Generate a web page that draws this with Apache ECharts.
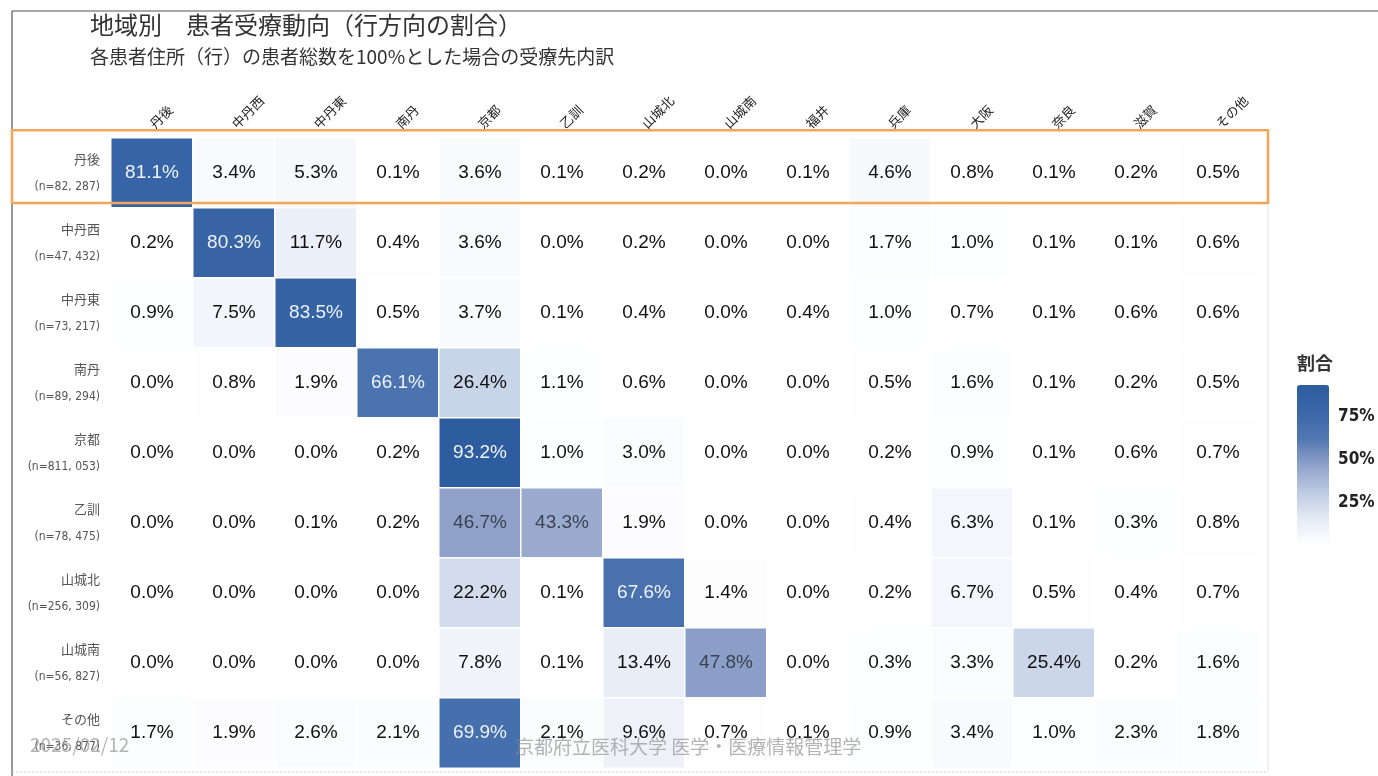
<!DOCTYPE html>
<html><head><meta charset="utf-8">
<script src="https://cdn.jsdelivr.net/npm/echarts@6/dist/echarts.min.js"></script>
<style>html,body{margin:0;padding:0;background:#fff}#c{width:1378px;height:776px}</style>
</head><body><div id="c"></div>
<script>
const destinations = ['丹後','中丹西','中丹東','南丹','京都','乙訓','山城北','山城南','福井','兵庫','大阪','奈良','滋賀','その他'];
const residences = ['丹後','中丹西','中丹東','南丹','京都','乙訓','山城北','山城南','その他'];
const residenceN = ['82, 287','47, 432','73, 217','89, 294','811, 053','78, 475','256, 309','56, 827','36, 877'];
const rowTango    = [81.1,3.4,5.3,0.1,3.6,0.1,0.2,0.0,0.1,4.6,0.8,0.1,0.2,0.5];
const rowChutanW  = [0.2,80.3,11.7,0.4,3.6,0.0,0.2,0.0,0.0,1.7,1.0,0.1,0.1,0.6];
const rowChutanE  = [0.9,7.5,83.5,0.5,3.7,0.1,0.4,0.0,0.4,1.0,0.7,0.1,0.6,0.6];
const rowNantan   = [0.0,0.8,1.9,66.1,26.4,1.1,0.6,0.0,0.0,0.5,1.6,0.1,0.2,0.5];
const rowKyoto    = [0.0,0.0,0.0,0.2,93.2,1.0,3.0,0.0,0.0,0.2,0.9,0.1,0.6,0.7];
const rowOtokuni  = [0.0,0.0,0.1,0.2,46.7,43.3,1.9,0.0,0.0,0.4,6.3,0.1,0.3,0.8];
const rowYamashiroN = [0.0,0.0,0.0,0.0,22.2,0.1,67.6,1.4,0.0,0.2,6.7,0.5,0.4,0.7];
const rowYamashiroS = [0.0,0.0,0.0,0.0,7.8,0.1,13.4,47.8,0.0,0.3,3.3,25.4,0.2,1.6];
const rowOther    = [1.7,1.9,2.6,2.1,69.9,2.1,9.6,0.7,0.1,0.9,3.4,1.0,2.3,1.8];
const legendTicks = [25,50,75];

const rows = [rowTango,rowChutanW,rowChutanE,rowNantan,rowKyoto,rowOtokuni,rowYamashiroN,rowYamashiroS,rowOther];
const data = [];
rows.forEach((r, yi) => r.forEach((v, xi) => {
  const col = v >= 60 ? '#eef2f8' : (v >= 40 ? '#3b4350' : '#111');
  data.push({ value: [xi, yi, v], label: { color: col } });
}));
const maxVal = Math.max(...rows.flat());

const chart = echarts.init(document.getElementById('c'));
const JP = "'Noto Sans CJK JP', sans-serif";
const baseGraphic = [
  { type: 'text', left: 90, top: 13, style: { text: '地域別　患者受療動向（行方向の割合）', font: '24px ' + JP, fill: '#333' } },
  { type: 'text', left: 90, top: 47, style: { text: '各患者住所（行）の患者総数を100%とした場合の受療先内訳', font: '19px ' + JP, fill: '#333' } },
  { type: 'text', left: 1297, top: 354, style: { text: '割合', font: 'bold 18px ' + JP, fill: '#333' } },
  { type: 'line', shape: { x1: 12, y1: 11, x2: 1378, y2: 11 }, style: { stroke: '#555', lineWidth: 1.2 } },
  { type: 'line', shape: { x1: 12, y1: 11, x2: 12, y2: 776 }, style: { stroke: '#555', lineWidth: 1.2 } },
  { type: 'line', shape: { x1: 1268, y1: 205, x2: 1268, y2: 772 }, style: { stroke: '#e4e4e4', lineWidth: 1 } },
  { type: 'line', shape: { x1: 12, y1: 772, x2: 1268, y2: 772 }, style: { stroke: '#ccc', lineWidth: 1, lineDash: [2, 2] } },
  { type: 'text', left: 30, top: 735, z: 200, style: { text: '2025/02/12', font: '19px ' + JP, fill: 'rgba(150,150,150,0.7)' } },
  { type: 'text', left: 515, top: 737, z: 200, style: { text: '京都府立医科大学 医学・医療情報管理学', font: '19px ' + JP, fill: 'rgba(140,140,140,0.65)' } }
];
chart.setOption({
  animation: false,
  backgroundColor: '#fff',
  grid: [
    { left: 111, right: 119, top: 138, bottom: 8 },
    { left: 1297, top: 385, width: 32, height: 160 }
  ],
  xAxis: [
    { type: 'category', data: destinations, position: 'top', gridIndex: 0,
      axisLine: { show: false }, axisTick: { show: false }, splitLine: { show: false },
      axisLabel: { rotate: -45, margin: 12, fontSize: 13, color: '#222', fontFamily: JP, padding: [0, 6, 0, 0] } },
    { type: 'value', gridIndex: 1, show: false, min: 0, max: 1 }
  ],
  yAxis: [
    { type: 'category', data: residences, inverse: true, gridIndex: 0,
      axisLine: { show: false }, axisTick: { show: false }, splitLine: { show: false },
      axisLabel: { margin: 11, align: 'right', fontFamily: JP,
        formatter: (v, i) => '{n|' + v + '}\n{c|(n=' + residenceN[i] + ')}',
        rich: { n: { fontSize: 13, color: '#555', lineHeight: 28, fontFamily: JP, align: 'right' },
                c: { fontSize: 12, color: '#555', lineHeight: 28, fontFamily: "'DejaVu Sans Condensed','DejaVu Sans',sans-serif", align: 'right' } } } },
    { type: 'value', gridIndex: 1, min: 0, max: maxVal, interval: 25, position: 'right',
      axisLine: { show: false }, axisTick: { show: false }, splitLine: { show: false },
      axisLabel: { margin: 9, fontSize: 17, color: '#222', fontWeight: 'bold',
        fontFamily: "'DejaVu Sans Condensed','Liberation Sans Narrow',sans-serif",
        formatter: v => legendTicks.includes(v) ? v + '%' : '' } }
  ],
  visualMap: {
    type: 'continuous', min: 0, max: maxVal, dimension: 2, seriesIndex: 0,
    calculable: false, orient: 'vertical', left: 1292, top: 380,
    itemWidth: 32, itemHeight: 160, text: null, padding: 5,
    inRange: { color: ['#ffffff', '#e4eaf4', '#bccae2', '#8fa1c9', '#5077b2', '#3a66a8', '#2d5d9e'] }
  },
  series: [{
    type: 'heatmap', xAxisIndex: 0, yAxisIndex: 0, data: data,
    itemStyle: { borderColor: '#fff', borderWidth: 1.5 },
    label: { show: true, fontSize: 19, fontFamily: "'Liberation Sans', Arial, sans-serif",
      formatter: p => p.value[2].toFixed(1) + '%' },
    emphasis: { disabled: true }
  }],
  graphic: baseGraphic
});
// highlight box around first residence row, positioned from the category axis
const c0 = chart.convertToPixel({ gridIndex: 0 }, [0, 0]);
const c1 = chart.convertToPixel({ gridIndex: 0 }, [0, 1]);
const rowH = c1[1] - c0[1];
const lastX = chart.convertToPixel({ gridIndex: 0 }, [destinations.length - 1, 0])[0];
const colW = chart.convertToPixel({ gridIndex: 0 }, [1, 0])[0] - c0[0];
chart.setOption({ graphic: baseGraphic.concat([
  { type: 'rect', shape: { x: 12, y: c0[1] - rowH * 0.61, width: lastX + colW / 2 + 9 - 12, height: rowH * 1.04 },
    style: { fill: 'none', stroke: '#f2a65a', lineWidth: 2.5 }, z: 100 }
])}, { replaceMerge: ['graphic'] });
</script>
</body></html>
